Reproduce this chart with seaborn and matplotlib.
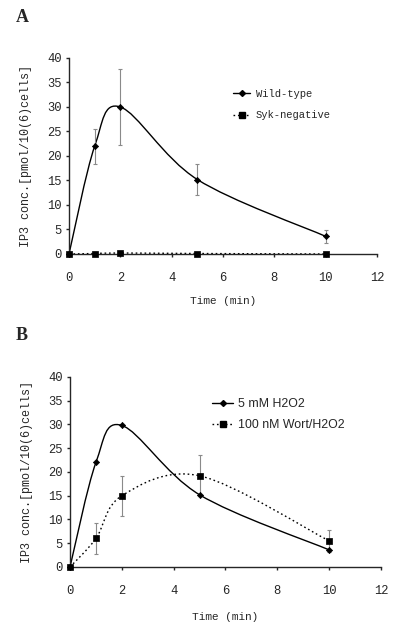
import numpy as np
import matplotlib
matplotlib.use('Agg')
import matplotlib.pyplot as plt
import seaborn as sns
from matplotlib.path import Path
from matplotlib.patches import PathPatch
from matplotlib.lines import Line2D


# Данные
time_min = [0, 1, 2, 5, 10]

wild_type = [0, 22.0, 30.0, 15.2, 3.6]
wild_type_err = [0, 3.6, 7.7, 3.2, 1.3]
syk_negative = [0, 0.1, 0.2, 0.1, 0.0]

h2o2 = [0, 22.0, 29.8, 15.2, 3.6]
wort_h2o2 = [0, 6.0, 15.0, 19.2, 5.5]
wort_h2o2_err = [0, 3.3, 4.2, 4.3, 2.3]

x_ticks = [0, 2, 4, 6, 8, 10, 12]
y_ticks = [0, 5, 10, 15, 20, 25, 30, 35, 40]

mono = ['Liberation Mono', 'DejaVu Sans Mono']
dotted = (0, (1.2, 2))


def smooth_path(x, y):
    # Сглаженная линия как в Excel: кривые Безье через точки данных
    pts = np.column_stack([x, y]).astype(float)
    n = len(pts)
    verts = [pts[0]]
    codes = [Path.MOVETO]
    for i in range(n - 1):
        p0 = pts[i - 1] if i > 0 else pts[i]
        p1 = pts[i]
        p2 = pts[i + 1]
        p3 = pts[i + 2] if i + 2 < n else pts[i + 1]
        c1 = p1 + (p2 - p0) / 6
        c2 = p2 - (p3 - p1) / 6
        verts += [c1, c2, p2]
        codes += [Path.CURVE4] * 3
    return Path(verts, codes)


def draw_series(ax, y, err, marker, size, linestyle):
    patch = PathPatch(smooth_path(time_min, y), facecolor='none',
                      edgecolor='black', linewidth=1.0, linestyle=linestyle,
                      transform=ax.transData, clip_on=False)
    ax.add_patch(patch)
    if err is not None:
        ax.errorbar(time_min, y, yerr=err, fmt='none', ecolor='#8a8a8a',
                    elinewidth=0.8, capsize=1.5, capthick=0.8, zorder=2)
    sns.scatterplot(x=time_min, y=y, marker=marker, s=size, color='black',
                    edgecolor='black', linewidth=0.5, ax=ax, zorder=4,
                    clip_on=False, legend=False)


def style_axes(ax, xlabelpad):
    ax.set_xlim(0, 12)
    ax.set_ylim(0, 40)
    ax.set_xticks(x_ticks)
    ax.set_yticks(y_ticks)
    sns.despine(ax=ax)
    ax.spines['left'].set_linewidth(1.0)
    ax.spines['bottom'].set_linewidth(1.0)
    ax.tick_params(direction='out', length=2.2, width=1.0)
    ax.tick_params(axis='x', pad=11)
    ax.tick_params(axis='y', pad=3)
    for lab in ax.get_xticklabels() + ax.get_yticklabels():
        lab.set_family(mono)
        lab.set_fontsize(8.7)
    ax.set_xlabel('Time (min)', family=mono, fontsize=8, labelpad=xlabelpad)
    ax.set_ylabel('IP3 conc.[pmol/10(6)cells]', family=mono, fontsize=8.5,
                  labelpad=11)


def legend_handles():
    return [
        Line2D([], [], color='black', lw=1.0, marker='D', markersize=3),
        Line2D([], [], color='black', lw=1.0, linestyle=dotted,
               marker='s', markersize=4),
    ]


sns.set_style('ticks')
plt.rcParams['font.family'] = ['Liberation Sans', 'DejaVu Sans']

fig = plt.figure(figsize=(4.0, 6.35), dpi=100)

# Панель A
ax_a = fig.add_axes([0.1725, 0.600, 0.770, 0.3087])
draw_series(ax_a, wild_type, wild_type_err, 'D', 10, '-')
draw_series(ax_a, syk_negative, None, 's', 18, dotted)
style_axes(ax_a, 8.6)
ax_a.legend(legend_handles(), ['Wild-type', 'Syk-negative'], loc='upper left',
            bbox_to_anchor=(0.502, 0.891), frameon=False, handlelength=1.6,
            handletextpad=0.55, labelspacing=1.1, numpoints=1,
            prop={'family': mono, 'size': 7.6})
fig.text(0.04, 0.972, 'A', family='Liberation Serif', fontweight='bold',
         fontsize=13, va='center')

# Панель B
ax_b = fig.add_axes([0.175, 0.1071, 0.7775, 0.2992])
draw_series(ax_b, h2o2, None, 'D', 10, '-')
draw_series(ax_b, wort_h2o2, wort_h2o2_err, 's', 18, dotted)
style_axes(ax_b, 10.5)
ax_b.legend(legend_handles(), ['5 mM H2O2', '100 nM Wort/H2O2'],
            loc='upper left', bbox_to_anchor=(0.421, 0.947), frameon=False,
            handlelength=1.7, handletextpad=0.4, labelspacing=0.75,
            numpoints=1, prop={'family': ['Liberation Sans'], 'size': 8.9})
fig.text(0.04, 0.471, 'B', family='Liberation Serif', fontweight='bold',
         fontsize=13, va='center')

fig.savefig('out.png', dpi=100)
